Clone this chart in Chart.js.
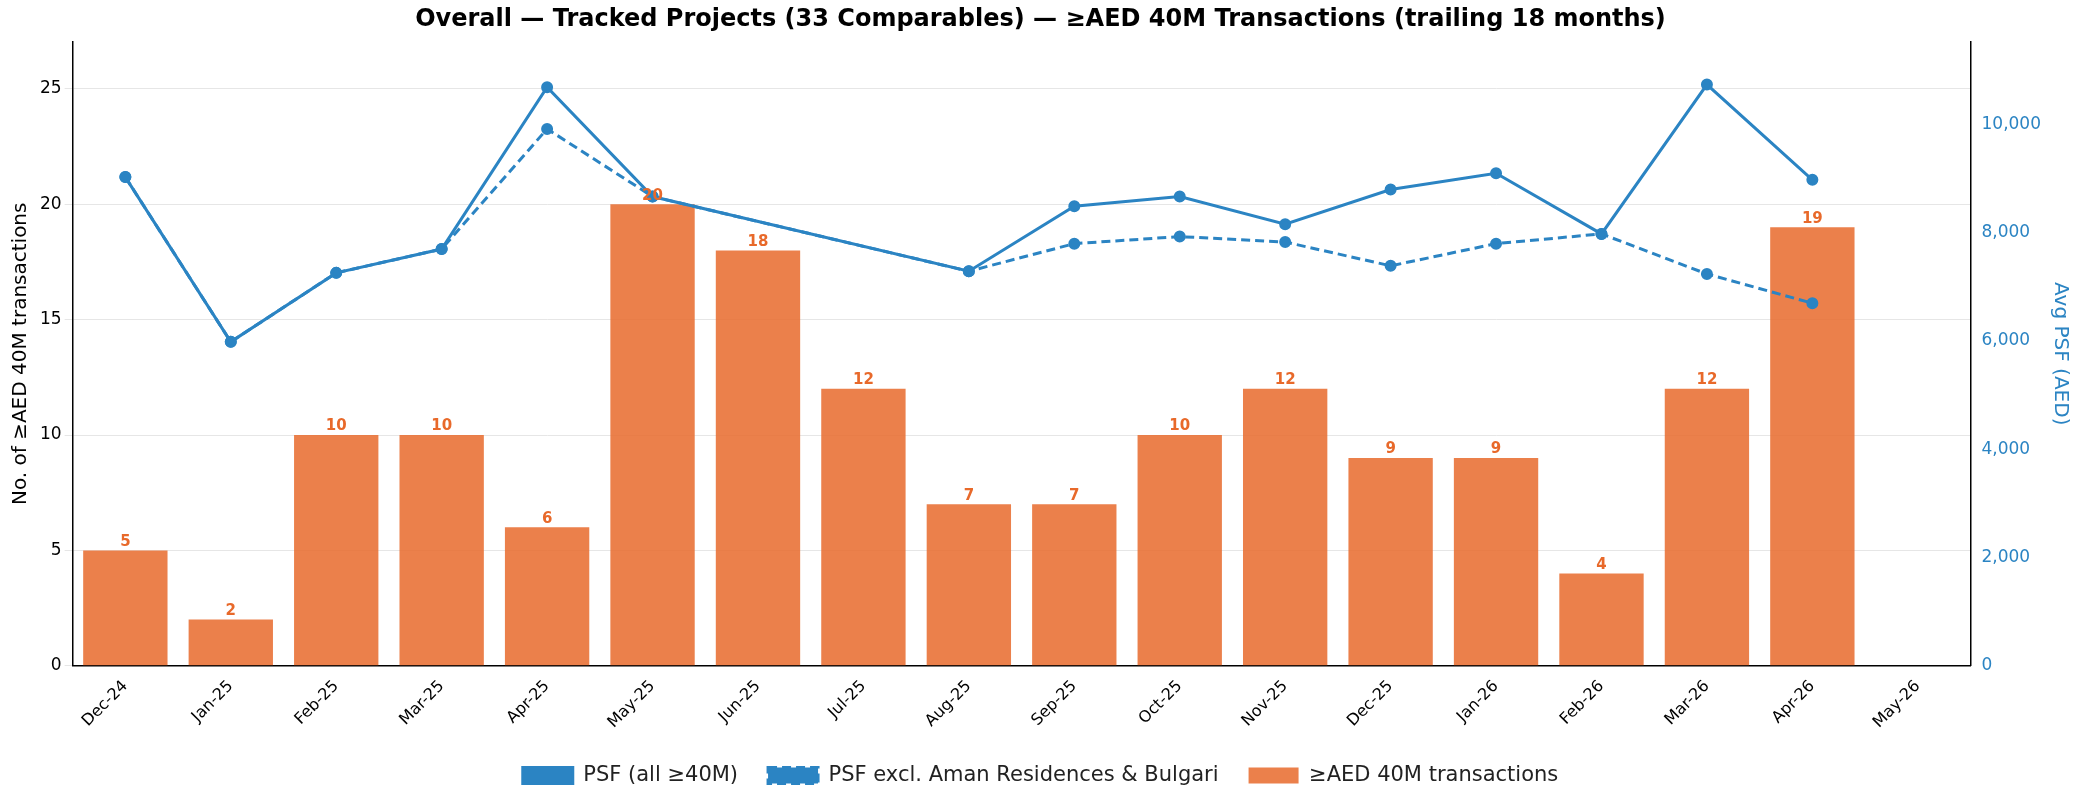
<!DOCTYPE html>
<html><head><meta charset="utf-8">
<script src="https://cdn.jsdelivr.net/npm/chart.js@4/dist/chart.umd.min.js"></script>
<style>body{margin:0;background:#fff}#wrap{width:2086px;height:801px}</style>
</head><body><div id="wrap"><canvas id="c"></canvas></div>
<script>
const months = ['Dec-24','Jan-25','Feb-25','Mar-25','Apr-25','May-25','Jun-25','Jul-25','Aug-25','Sep-25','Oct-25','Nov-25','Dec-25','Jan-26','Feb-26','Mar-26','Apr-26','May-26'];
const txCounts = [5,2,10,10,6,20,18,12,7,7,10,12,9,9,4,12,19,null];
const psfAll = [9030,5985,7260,7700,10690,8670,null,null,7290,8490,8670,8160,8800,9100,7980,10740,8980,null];
const psfExcl = [9030,5985,7260,7700,9920,8670,null,null,7290,7800,7930,7830,7390,7800,7980,7240,6700,null];

const barLabels = {
  id: 'barLabels',
  afterDatasetsDraw(chart) {
    const ctx = chart.ctx, meta = chart.getDatasetMeta(0);
    ctx.save();
    ctx.fillStyle = '#e8692a';
    ctx.font = 'bold 15px "DejaVu Sans"';
    ctx.textAlign = 'center';
    ctx.textBaseline = 'bottom';
    meta.data.forEach((b, i) => {
      if (txCounts[i] == null) return;
      ctx.fillText(txCounts[i], b.x, b.y - 1);
    });
    ctx.restore();
  }
};

new Chart(document.getElementById('c'), {
  data: {
    labels: months,
    datasets: [
      { type: 'bar', label: '≥AED 40M transactions', data: txCounts, yAxisID: 'y',
        backgroundColor: 'rgba(232,110,50,0.88)', barPercentage: 0.8, categoryPercentage: 1, order: 3 },
      { type: 'line', label: 'PSF (all ≥40M)', data: psfAll, yAxisID: 'y1', spanGaps: true,
        borderColor: '#2b84c3', backgroundColor: '#2b84c3', borderWidth: 3, pointRadius: 4.5, order: 1 },
      { type: 'line', label: 'PSF excl. Aman Residences & Bulgari', data: psfExcl, yAxisID: 'y1', spanGaps: true,
        borderColor: '#2b84c3', backgroundColor: '#2b84c3', borderWidth: 3, borderDash: [9,5], pointRadius: 4.5, order: 2 }
    ]
  },
  options: {
    responsive: true, maintainAspectRatio: false, animation: false,
    layout: { padding: { left: 5, right: 10, top: 5, bottom: 5 } },
    plugins: {
      title: { display: true, text: 'Overall — Tracked Projects (33 Comparables) — ≥AED 40M Transactions (trailing 18 months)',
        color: '#000', font: { size: 24, weight: 'bold', family: 'DejaVu Sans' }, padding: { bottom: 8 } },
      legend: { position: 'bottom', labels: { color: '#222', font: { size: 21, family: 'DejaVu Sans' },
        boxWidth: 50, boxHeight: 16, padding: 30, usePointStyle: false } },
      tooltip: { enabled: false }
    },
    scales: {
      x: { offset: true, grid: { display: false }, border: { color: '#000', width: 1.5 },
        ticks: { color: '#000', maxRotation: 45, minRotation: 45, font: { size: 16, family: 'DejaVu Sans' } } },
      y: { position: 'left', min: 0, max: 27.04, afterBuildTicks: a => { a.ticks = [0,5,10,15,20,25].map(v => ({ value: v })); },
        grid: { color: '#e6e6e6' }, border: { color: '#000', width: 1.5 },
        title: { display: true, text: 'No. of ≥AED 40M transactions', color: '#000', font: { size: 20, family: 'DejaVu Sans' } },
        ticks: { color: '#000', font: { size: 17, family: 'DejaVu Sans' } } },
      y1: { position: 'right', min: 0, max: 11530, afterBuildTicks: a => { a.ticks = [0,2000,4000,6000,8000,10000].map(v => ({ value: v })); },
        grid: { display: false }, border: { color: '#000', width: 1.5 },
        title: { display: true, text: 'Avg PSF (AED)', color: '#2b84c3', font: { size: 20, family: 'DejaVu Sans' } },
        ticks: { color: '#2b84c3', font: { size: 17, family: 'DejaVu Sans' }, callback: v => v.toLocaleString('en-US') } }
    }
  },
  plugins: [barLabels]
});
</script></body></html>
